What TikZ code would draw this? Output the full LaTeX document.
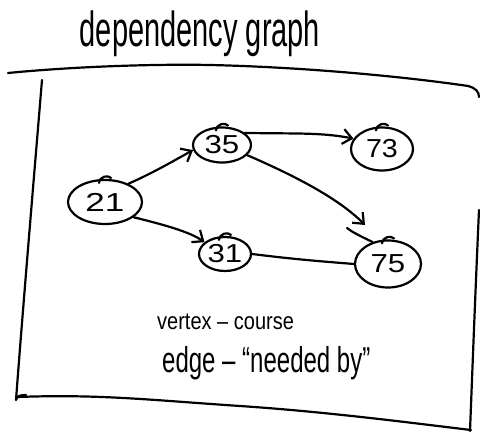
\documentclass[tikz,border=0pt]{standalone}
\usepackage{fontspec}
\setmainfont{Liberation Sans}
\usetikzlibrary{shapes.geometric,arrows.meta,calc}
\newcommand{\tall}[2]{\scalebox{1}[#1]{#2}}
\newcommand{\wide}[2]{\scalebox{#1}[1]{#2}}
\begin{document}
\begin{tikzpicture}[x=1pt,y=-1pt,line cap=round,line join=round,
  pen/.style={line width=2.2pt,black},
  vtx/.style={pen,draw,ellipse,inner sep=0pt,font=\fontsize{26}{26}\selectfont},
  arr/.style={pen,-{Straight Barb[length=9pt,width=15pt,line width=2.2pt]}},
  note/.style={anchor=base west,inner sep=0pt}]
\useasboundingbox (0,0) rectangle (480,433);

% heading
\node[anchor=base,inner sep=0pt,font=\fontsize{29}{30}\selectfont] (title) at (200,47) {\tall{1.7}{dependency graph}};

% page frame
\draw[pen] (8,73) .. controls (80,66) and (160,64) .. (210,65)
  .. controls (300,67) and (400,76) .. (468,86)
  .. controls (476,88) and (479,92) .. (479,97);
\draw[pen] (42,80) .. controls (32,200) and (22,320) .. (16,400)
  .. controls (17,396) and (20,395) .. (26,395);
\draw[pen] (17,397) .. controls (100,394) and (150,400) .. (240,406)
  .. controls (330,412) and (420,424) .. (471,430);
\draw[pen] (479,210) .. controls (475,300) and (472,380) .. (470,431);

% vertices
\node[vtx,minimum width=74pt,minimum height=44pt] (n21) at (105,202) {\wide{1.35}{21}};
\node[vtx,minimum width=58pt,minimum height=35pt] (n35) at (222,145) {\wide{1.2}{35}};
\node[vtx,minimum width=62pt,minimum height=43pt] (n73) at (382,149) {\wide{1.1}{73}};
\node[vtx,minimum width=52pt,minimum height=34pt] (n31) at (225,254) {\wide{1.2}{31}};
\node[vtx,minimum width=66pt,minimum height=47pt] (n75) at (388,264) {\wide{1.2}{75}};

% little pen hooks on top of each vertex
\foreach \n in {n21,n35,n73,n31,n75}{
  \draw[pen] ($(\n.north)+(-6,4)$) .. controls ($(\n.north)+(-5,-3)$) and ($(\n.north)+(3,-4)$) .. ($(\n.north)+(6,-1)$);
}
% stroke trailing off the top of vertex 75
\draw[pen] (n75.125) .. controls (360,236) and (352,232) .. (347,228);

% edges
\coordinate (tip) at (365,225);
\draw[arr] (n21.38) .. controls (155,172) and (175,160) .. (n35.190);
\draw[arr] (n21.-28) .. controls (165,225) and (190,232) .. (n31.150);
\draw[arr] (n35.28) .. controls (290,134) and (320,132) .. (n73.160);
\draw[arr] (n35.-22) .. controls (300,178) and (340,200) .. (tip);
\draw[pen] (n31.east) .. controls (300,260) and (330,262) .. (n75.west);

% legend
\node[note,font=\fontsize{20}{20}\selectfont] (l1) at (157,330) {\tall{1.2}{vertex -- course}};
\node[note,font=\fontsize{24}{24}\selectfont] (l2) at (162,372) {\tall{1.5}{edge -- “needed by”}};
\end{tikzpicture}
\end{document}
